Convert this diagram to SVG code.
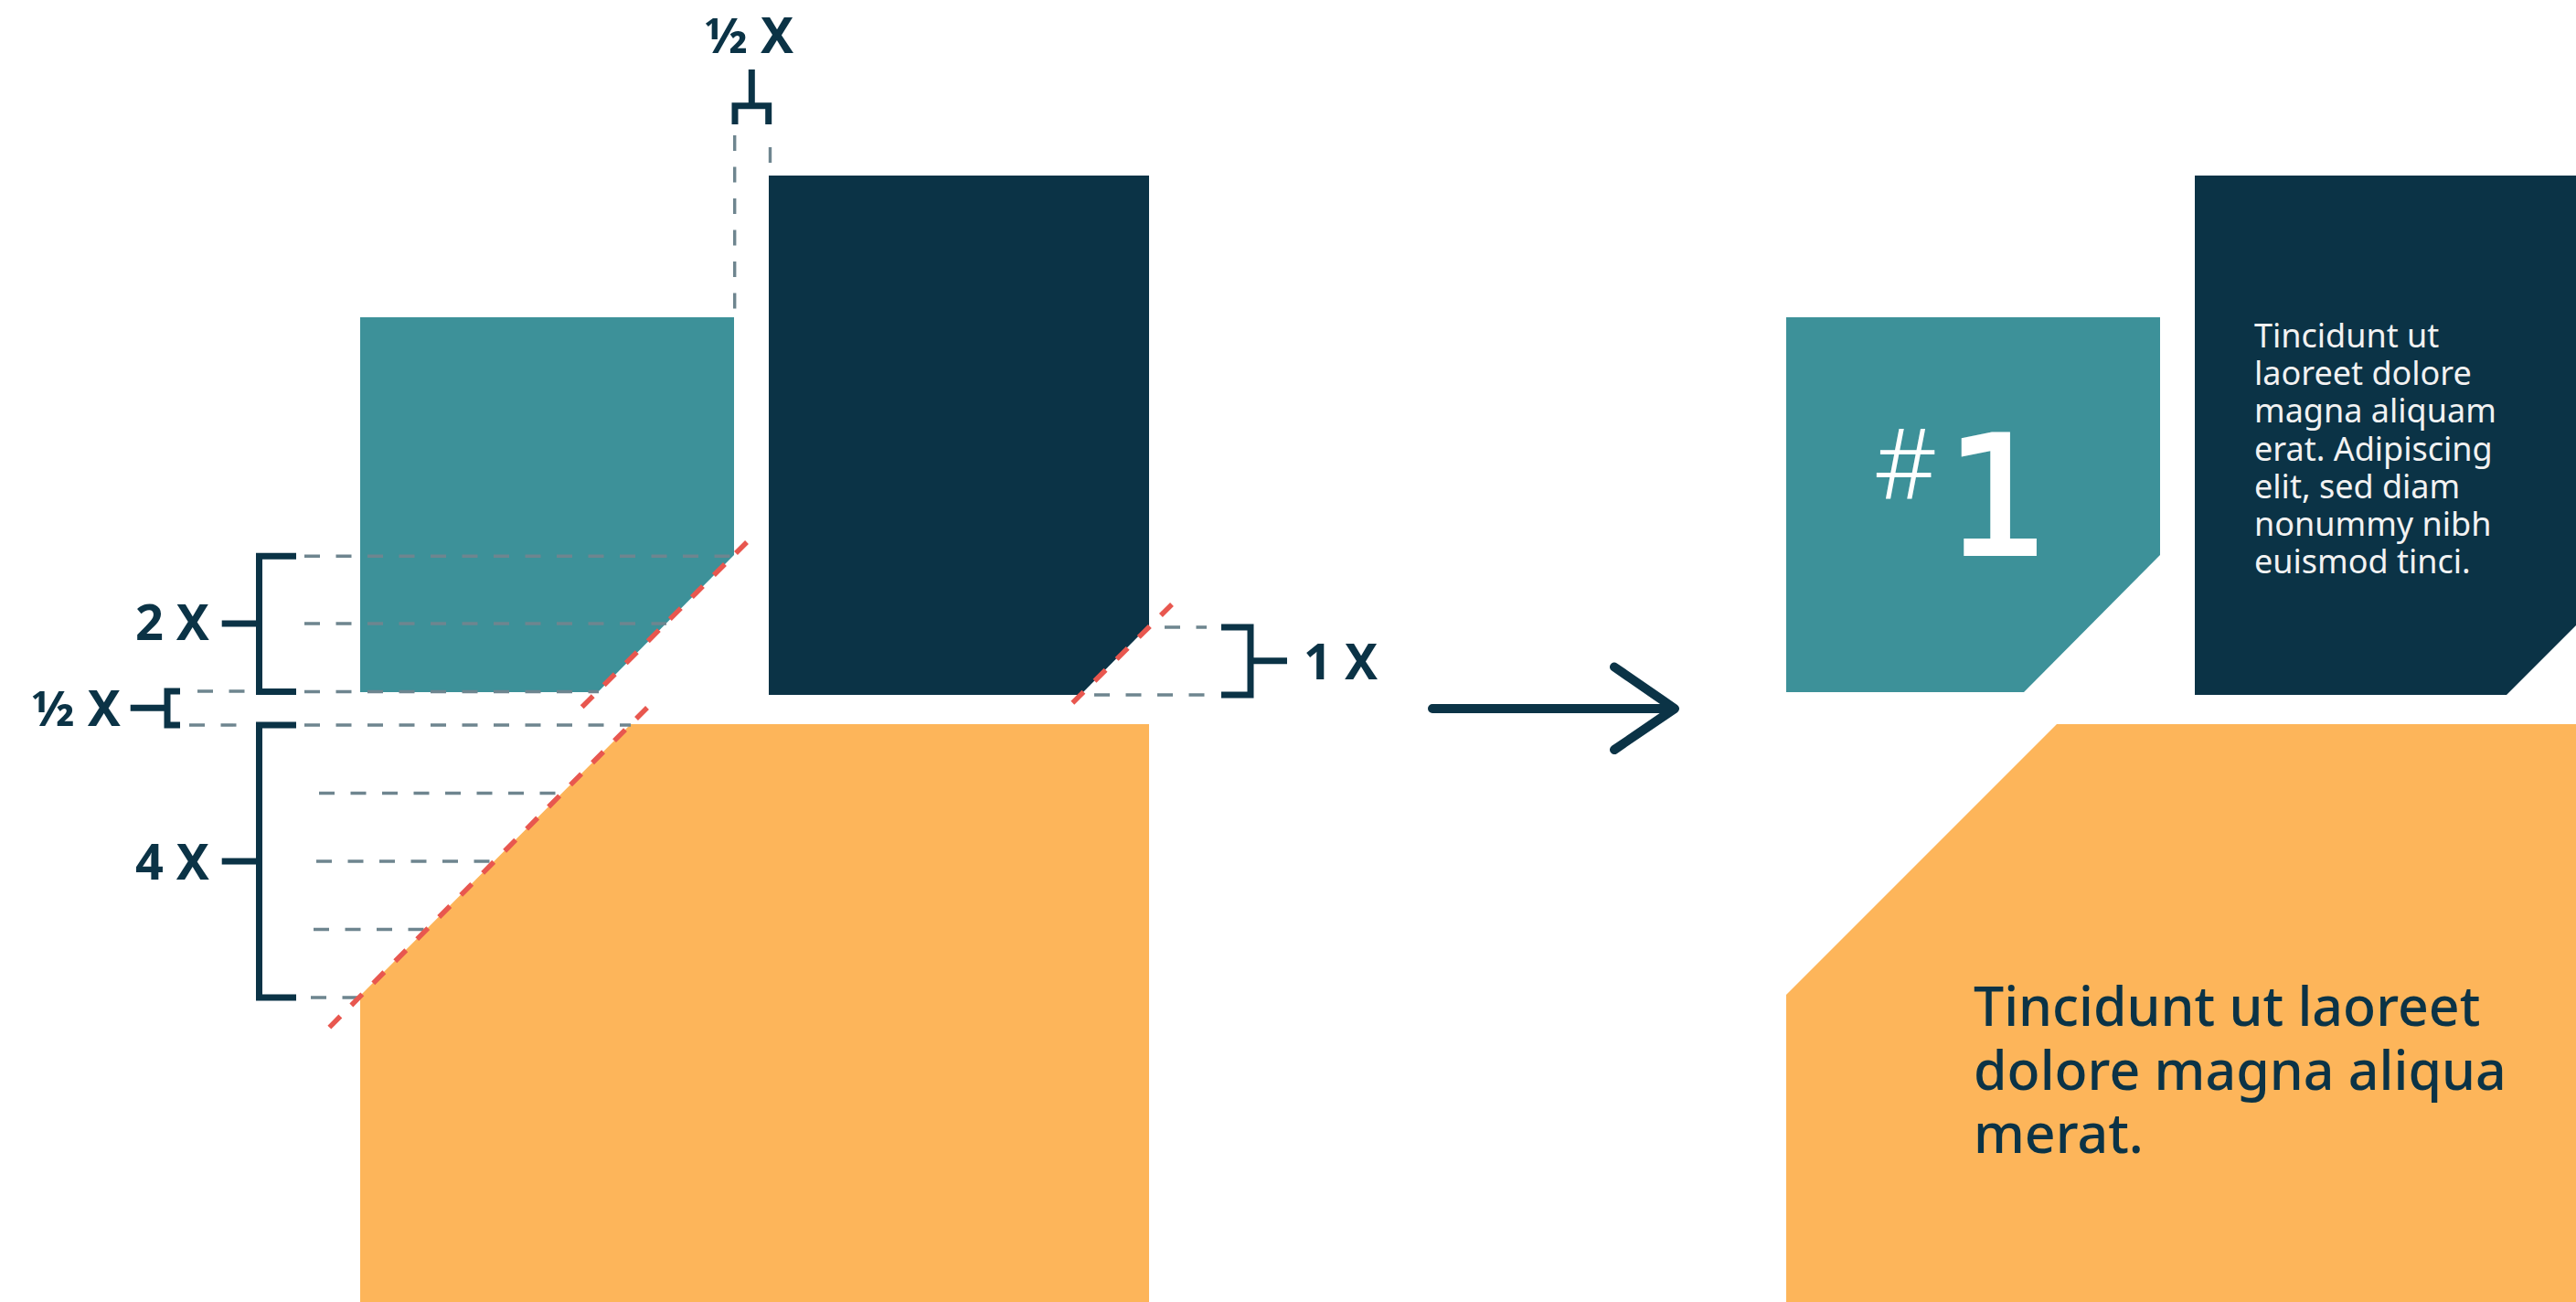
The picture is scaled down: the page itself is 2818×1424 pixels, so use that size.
<svg xmlns="http://www.w3.org/2000/svg" width="2818" height="1424" viewBox="0 0 2818 1424">
<style>
.teal{fill:#3d9199}
.navy{fill:#0b3346}
.orange{fill:#fdb55a}
.gd{stroke:#6e858f;stroke-width:3.4;stroke-dasharray:17 17.5;fill:none}
.rd{stroke:#e8574f;stroke-width:5.5;stroke-dasharray:17 17;fill:none}
.br{stroke:#0b3346;stroke-width:7;fill:none;stroke-linejoin:miter;stroke-linecap:butt}
.lbl{font-family:"Noto Sans","Liberation Sans",sans-serif;font-weight:700;font-size:54px;fill:#0b3346}
.body{font-family:"Noto Sans","Liberation Sans",sans-serif;font-size:36px;fill:#f2f2f2}
.big{font-family:"Noto Sans","Liberation Sans",sans-serif;font-weight:500;font-size:59px;fill:#0b3346}
</style>
<rect width="2818" height="1424" fill="#ffffff"/>

<!-- Left construction -->
<g id="teal-left"><path class="teal" d="M394 347 H803 V607 L654 757 H394 Z"/></g>
<g id="navy-left"><path class="navy" d="M841 192 H1257 V684 L1182 760 H841 Z"/></g>
<g id="orange-left"><path class="orange" d="M690 792 H1257 V1424 H394 V1089 Z"/></g>

<g id="guides">
  <!-- top half-x verticals -->
  <line class="gd" x1="803.7" y1="148" x2="803.7" y2="340"/>
  <line class="gd" x1="842.5" y1="161" x2="842.5" y2="179"/>
  <!-- 2X -->
  <line class="gd" x1="333" y1="608.3" x2="802" y2="608.3"/>
  <line class="gd" x1="333" y1="682" x2="729" y2="682"/>
  <line class="gd" x1="333" y1="756.5" x2="655" y2="756.5"/>
  <!-- half X left -->
  <line class="gd" x1="216" y1="756" x2="268" y2="756"/>
  <line class="gd" x1="207" y1="793" x2="262" y2="793"/>
  <line class="gd" x1="333" y1="793" x2="690" y2="793"/>
  <!-- 4X -->
  <line class="gd" x1="349" y1="867.5" x2="612" y2="867.5"/>
  <line class="gd" x1="346" y1="942" x2="538" y2="942"/>
  <line class="gd" x1="343" y1="1016.5" x2="466" y2="1016.5"/>
  <line class="gd" x1="340" y1="1091" x2="393" y2="1091"/>
  <!-- 1X -->
  <line class="gd" x1="1274" y1="686" x2="1320" y2="686"/>
  <line class="gd" x1="1197" y1="760" x2="1320" y2="760"/>
  <!-- red diagonals -->
  <line class="rd" x1="817" y1="593" x2="635" y2="775"/>
  <line class="rd" x1="1282" y1="661" x2="1170" y2="772"/>
  <line class="rd" x1="708" y1="774" x2="352" y2="1132"/>
</g>

<g id="bracket-top-half">
  <path class="br" d="M804 136 V115.7 H840.7 V136 M822.3 76 V115.7"/>
  <text class="lbl" x="819.5" y="58" text-anchor="middle">½ X</text>
</g>
<g id="bracket-2x">
  <path class="br" d="M324 608.3 H283.5 V756.4 H324 M242.7 682 H283.5"/>
  <text class="lbl" x="229" y="700" text-anchor="end">2 X</text>
</g>
<g id="bracket-half-left">
  <path class="br" d="M197 756 H183 V793 H197 M142.7 774.3 H183"/>
  <text class="lbl" x="132" y="794" text-anchor="end">½ X</text>
</g>
<g id="bracket-4x">
  <path class="br" d="M324 793 H283.5 V1091 H324 M242.7 942 H283.5"/>
  <text class="lbl" x="229" y="961.5" text-anchor="end">4 X</text>
</g>
<g id="bracket-1x">
  <path class="br" d="M1336 686 H1368 V760 H1336 M1368 722.7 H1408"/>
  <text class="lbl" x="1426" y="743">1 X</text>
</g>

<g id="connectors">
  <path d="M1567 775 H1830 M1766 729.5 L1832 775 L1766 820" fill="none" stroke="#0b3346" stroke-width="10" stroke-linecap="round" stroke-linejoin="round"/>
</g>

<!-- Right result -->
<g id="teal-right">
  <path class="teal" d="M1954 347 H2363 V607 L2214 757 H1954 Z"/>
  <text x="2050" y="545" font-family="'Noto Sans','DejaVu Sans',sans-serif" font-weight="300" font-size="107" fill="#ffffff">#</text>
  <text x="2128" y="606" font-family="'DejaVu Sans',sans-serif" font-size="180" fill="#ffffff" stroke="#ffffff" stroke-width="4">1</text>
</g>
<g id="navy-right">
  <path class="navy" d="M2401 192 H2818 V684 L2742 760 H2401 Z"/>
  <text class="body">
    <tspan x="2466" y="380">Tincidunt ut</tspan>
    <tspan x="2466" y="421.2">laoreet dolore</tspan>
    <tspan x="2466" y="462.4">magna aliquam</tspan>
    <tspan x="2466" y="503.6">erat. Adipiscing</tspan>
    <tspan x="2466" y="544.8">elit, sed diam</tspan>
    <tspan x="2466" y="586">nonummy nibh</tspan>
    <tspan x="2466" y="627">euismod tinci.</tspan>
  </text>
</g>
<g id="orange-right">
  <path class="orange" d="M2250 792 H2818 V1424 H1954 V1088 Z"/>
  <text class="big">
    <tspan x="2159" y="1122">Tincidunt ut laoreet</tspan>
    <tspan x="2159" y="1191.5">dolore magna aliqua</tspan>
    <tspan x="2159" y="1261">merat.</tspan>
  </text>
</g>
</svg>
